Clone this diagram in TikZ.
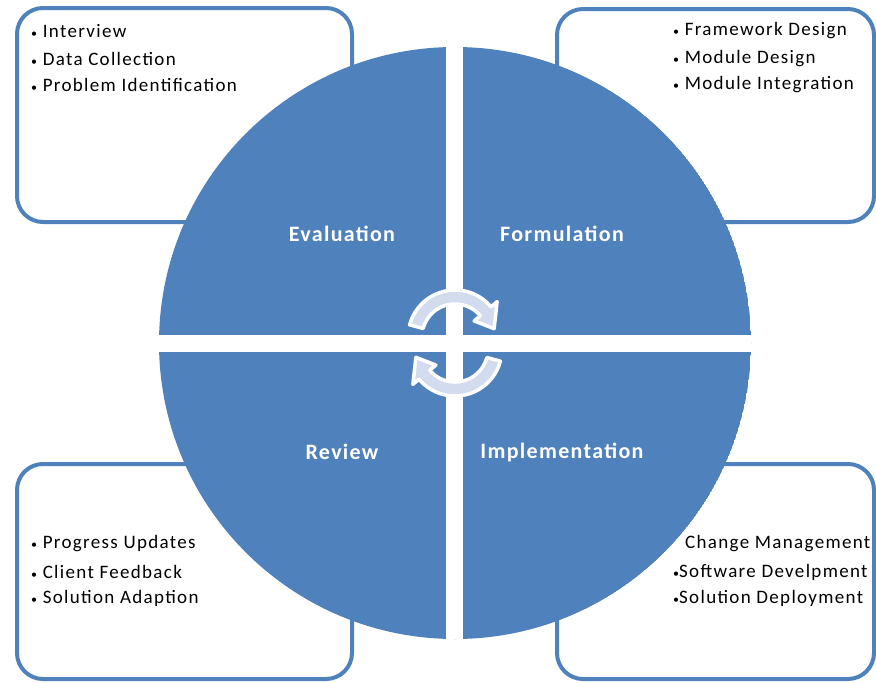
\documentclass[tikz,border=0pt]{standalone}
\usepackage{fontspec}
\setmainfont{Carlito}
\usetikzlibrary{calc}
\definecolor{cycleblue}{HTML}{4F81BD}
\definecolor{turnfill}{HTML}{D2DCEE}
\newcommand{\dotitem}{{\fontsize{12}{12}\selectfont•}}
\tikzset{
	stagebox/.style={draw=cycleblue, line width=4pt, fill=white, rounded corners=26pt},
	item/.style={anchor=west, inner sep=0pt, font=\fontsize{19}{21}\selectfont\addfontfeature{LetterSpace=7}},
	stage/.style={text=white, font=\fontsize{22}{24}\selectfont\bfseries\addfontfeature{LetterSpace=6}},
	turn/.style={fill=turnfill, draw=white, line width=3.5pt, line join=round},
}

\begin{document}
\begin{tikzpicture}[x=1pt, y=-1pt]
		%%%%% START %%%%%
		\useasboundingbox (0, 0) rectangle (876, 683);
		
		\draw[stagebox] (17, 8) rectangle (352, 222);
		\draw[stagebox] (557, 9) rectangle (874, 222);
		\draw[stagebox] (17, 464) rectangle (352, 679);
		\draw[stagebox] (557, 464) rectangle (874, 679);
		
		\coordinate (hub) at (455, 343);
		\begin{scope}
			\clip (hub) circle (296);
			\fill[cycleblue] (hub) circle (296);
			\fill[white] (446, 40) rectangle (463, 650);
			\fill[white] (150, 335) rectangle (760, 352);
		\end{scope}
		
		\node[stage] (evaluation) at (342, 234) {Evaluation};
		\node[stage] (formulation) at (562, 234) {Formulation};
		\node[stage] (review) at (342, 452) {Review};
		\node[stage] (implementation) at (562, 452) {Implementation};
		
		\node[item] (interview) at (31, 31) {\dotitem\ Interview};
		\node[item] (datacoll) at (31, 59) {\dotitem\ Data Collection};
		\node[item] (problemid) at (31, 85) {\dotitem\ Problem Identification};
		
		\node[item] (framework) at (673, 31) {\dotitem\ Framework Design};
		\node[item] (moddesign) at (673, 59) {\dotitem\ Module Design};
		\node[item] (modinteg) at (673, 85) {\dotitem\ Module Integration};
		
		\node[item] (progress) at (31, 544) {\dotitem\ Progress Updates};
		\node[item] (feedback) at (31, 572) {\dotitem\ Client Feedback};
		\node[item] (adaption) at (31, 598) {\dotitem\ Solution Adaption};
		
		\node[item] (change) at (685, 544) {Change Management};
		\node[item] (software) at (673, 572) {\dotitem Software Develpment};
		\node[item] (deploy) at (673, 598) {\dotitem Solution Deployment};
		
		\coordinate (upper) at (455, 337);
		\coordinate (lower) at (455, 349);
		\draw[turn] ($(upper)+(195:47)$) arc[start angle=195, end angle=320, radius=47]
			-- ($(upper)+(320:55)$) -- ($(upper)+(348:40)$) -- ($(upper)+(320:25)$)
			-- ($(upper)+(320:33)$) arc[start angle=320, end angle=195, radius=33] -- cycle;
		\draw[turn] ($(lower)+(15:47)$) arc[start angle=15, end angle=140, radius=47]
			-- ($(lower)+(140:55)$) -- ($(lower)+(168:40)$) -- ($(lower)+(140:25)$)
			-- ($(lower)+(140:33)$) arc[start angle=140, end angle=15, radius=33] -- cycle;
		
		%%%%% END %%%%%
\end{tikzpicture}
\end{document}
